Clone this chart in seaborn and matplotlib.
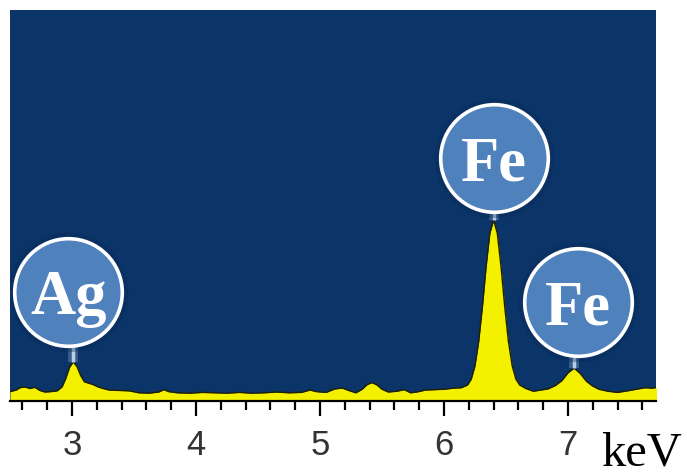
import numpy as np
import pandas as pd
import matplotlib
matplotlib.use("Agg")
import matplotlib.pyplot as plt
from matplotlib.ticker import MultipleLocator
import seaborn as sns

# ---------------- data ----------------
energy = [2.50, 2.55, 2.58, 2.62, 2.66, 2.70, 2.74, 2.78, 2.83, 2.88,
          2.92, 2.95, 2.98, 3.01, 3.04, 3.07, 3.10, 3.13, 3.17, 3.21,
          3.25, 3.30, 3.38, 3.46, 3.54, 3.62, 3.70, 3.74, 3.78, 3.85,
          3.95, 4.05, 4.15, 4.25, 4.35, 4.45, 4.55, 4.65, 4.75, 4.85,
          4.92, 4.97, 5.05, 5.12, 5.18, 5.24, 5.29, 5.34, 5.38, 5.42,
          5.46, 5.50, 5.55, 5.62, 5.68, 5.73, 5.78, 5.85, 5.92, 6.00,
          6.08, 6.14, 6.19, 6.22, 6.25, 6.28, 6.31, 6.34, 6.37, 6.40,
          6.43, 6.46, 6.49, 6.52, 6.55, 6.58, 6.61, 6.66, 6.72, 6.78,
          6.84, 6.90, 6.95, 7.00, 7.05, 7.10, 7.15, 7.20, 7.25, 7.32,
          7.40, 7.48, 7.55, 7.62, 7.68, 7.75]
counts = [2.4, 2.8, 3.4, 3.6, 3.2, 3.5, 2.7, 2.3, 2.4, 2.6,
          3.6, 5.8, 8.6, 10.0, 8.8, 6.5, 4.9, 4.6, 4.2, 3.6,
          3.2, 2.8, 2.7, 2.6, 2.1, 2.0, 2.3, 2.9, 2.4, 2.1,
          2.0, 2.2, 2.1, 2.0, 2.2, 2.0, 2.1, 2.3, 2.1, 2.2,
          2.8, 2.4, 2.2, 3.1, 3.3, 2.6, 2.1, 3.0, 4.2, 4.7,
          4.1, 3.0, 2.3, 2.5, 2.9, 2.1, 2.3, 2.8, 2.9, 3.0,
          3.3, 3.4, 4.1, 5.6, 9.0, 15.2, 24.1, 34.4, 42.9, 46.3,
          42.9, 34.4, 24.1, 15.2, 9.0, 5.6, 4.1, 3.2, 2.5, 2.8,
          3.1, 4.0, 5.2, 7.2, 8.4, 7.0, 5.0, 3.8, 3.0, 2.5,
          2.2, 2.6, 3.0, 3.4, 3.3, 3.6]

peak_labels = ["Ag", "Fe", "Fe"]
peak_energy = [3.01, 6.40, 7.05]
peak_height = [10.0, 46.3, 8.4]

tick_values = [3, 4, 5, 6, 7]
tick_labels = ["3", "4", "5", "6", "7"]
axis_unit = "keV"

# ---------------- layout constants ----------------
label_dx = [-0.04, 0.0, 0.03]      # circle centre offset from peak (keV)
label_dy = [17.9, 15.8, 16.9]      # circle centre offset above peak (counts)
circle_r = 13.8                    # circle radius in count units (vertical)

NAVY = "#0b3468"
YELLOW = "#f3f000"
BLUE = "#4f81bd"

sns.set_theme(style="white")
plt.rcParams["font.family"] = ["Liberation Sans", "DejaVu Sans"]

df = pd.DataFrame({"energy": energy, "counts": counts})

W, H = 687, 476
fig = plt.figure(figsize=(W / 100, H / 100), dpi=100)
fig.patch.set_facecolor("white")
ax = fig.add_axes([10 / W, 1 - 401 / H, 646 / W, 391 / H])
ax.set_facecolor(NAVY)

ax.fill_between(df["energy"], 0, df["counts"], color=YELLOW, lw=0, zorder=2)
sns.lineplot(data=df, x="energy", y="counts", color="#202000", lw=1.0,
             ax=ax, zorder=3)

for lab, e, h, dx, dy in zip(peak_labels, peak_energy, peak_height,
                             label_dx, label_dy):
    cx, cy = e + dx, h + dy
    bottom = cy - circle_r
    ax.plot([e, e], [h, bottom], color="#8fb0d8", lw=7, alpha=0.35,
            solid_capstyle="butt", zorder=3.5)
    ax.plot([e, e], [h, bottom], color="#b8cde6", lw=2.5,
            solid_capstyle="butt", zorder=3.6)
    ax.scatter([cx], [cy], s=7400, color="#0a2a55", alpha=0.35,
               linewidths=0, zorder=3.8)
    ax.scatter([cx], [cy], s=6000, color=BLUE, edgecolors="white",
               linewidths=2.6, zorder=4)
    ax.text(cx, cy, lab, color="white", fontsize=45, fontweight="bold",
            family=["Liberation Serif", "DejaVu Serif"],
            ha="center", va="center_baseline", zorder=5)

ax.set_xlim(2.5, 7.71)
ax.set_ylim(0, 100)
ax.set_xticks(tick_values)
ax.set_xticklabels(tick_labels)
ax.xaxis.set_minor_locator(MultipleLocator(0.2))
ax.set_yticks([])
ax.set_xlabel("")
ax.set_ylabel("")
ax.tick_params(axis="x", which="major", direction="out", length=11,
               width=1.6, color="black", pad=9, labelsize=25,
               labelcolor="#333333", bottom=True)
ax.tick_params(axis="x", which="minor", direction="out", length=6.5,
               width=1.6, color="black", bottom=True)
for s in ["top", "left", "right"]:
    ax.spines[s].set_visible(False)
ax.spines["bottom"].set_color("black")
ax.spines["bottom"].set_linewidth(1.6)

fig.text(601 / W, 1 - 465 / H, axis_unit, ha="left", va="baseline",
         fontsize=35, family=["Liberation Serif", "DejaVu Serif"],
         color="black")

fig.savefig("out.png", dpi=100, facecolor="white")
